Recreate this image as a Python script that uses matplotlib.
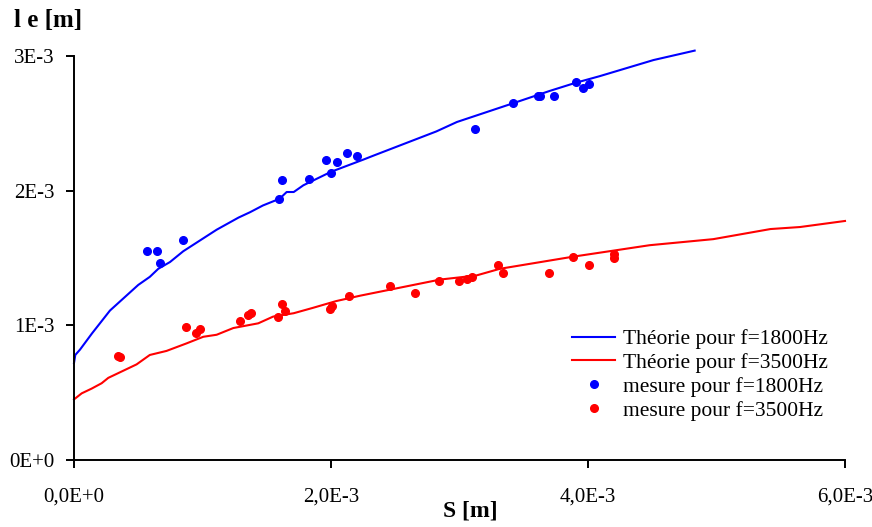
import numpy as np
import matplotlib
matplotlib.use("Agg")
import matplotlib.pyplot as plt

# valeurs, en mm (converties en m plus bas)
theo1800_S = [0.0, 0.01, 0.047, 0.14, 0.28, 0.50, 0.59, 0.656, 0.747, 0.85, 1.11, 1.28, 1.37, 1.47,
              1.60, 1.655, 1.71, 1.785, 2.0, 2.25, 2.33, 2.82, 2.98, 3.42, 3.7, 3.9, 4.09, 4.51, 4.83]
theo1800_le = [0.72, 0.78, 0.82, 0.94, 1.11, 1.30, 1.36, 1.42, 1.47, 1.55, 1.71, 1.80, 1.84, 1.89,
               1.94, 1.99, 1.99, 2.04, 2.14, 2.23, 2.26, 2.44, 2.51, 2.65, 2.74, 2.80, 2.85, 2.97, 3.04]

theo3500_S = [0.0, 0.06, 0.137, 0.215, 0.267, 0.487, 0.59, 0.72, 0.876, 1.006, 1.11, 1.24, 1.434,
              1.55, 1.71, 1.86, 2.04, 2.226, 2.85, 3.13, 3.315, 3.885, 4.48, 4.975, 5.42, 5.65, 6.0]
theo3500_le = [0.45, 0.495, 0.53, 0.57, 0.61, 0.71, 0.78, 0.81, 0.866, 0.915, 0.93, 0.98, 1.015,
               1.065, 1.09, 1.13, 1.18, 1.22, 1.34, 1.37, 1.42, 1.51, 1.595, 1.64, 1.715, 1.73, 1.775]

mes1800_S = [0.568, 0.646, 0.67, 0.85, 1.597, 1.62, 1.83, 1.96, 2.0, 2.05, 2.127, 2.2,
             3.12, 3.42, 3.61, 3.63, 3.735, 3.91, 3.96, 4.01]
mes1800_le = [1.55, 1.55, 1.46, 1.63, 1.94, 2.08, 2.09, 2.23, 2.13, 2.21, 2.28, 2.26,
              2.455, 2.65, 2.70, 2.70, 2.70, 2.81, 2.76, 2.79]

mes3500_S = [0.34, 0.36, 0.87, 0.95, 0.98, 1.29, 1.356, 1.38, 1.59, 1.617, 1.64, 1.99, 2.005, 2.14,
             2.46, 2.65, 2.84, 3.0, 3.06, 3.1, 3.3, 3.34, 3.70, 3.885, 4.01, 4.2, 4.2]
mes3500_le = [0.775, 0.765, 0.985, 0.945, 0.975, 1.03, 1.075, 1.09, 1.065, 1.16, 1.105, 1.125, 1.14, 1.22,
              1.29, 1.24, 1.33, 1.33, 1.345, 1.36, 1.445, 1.39, 1.39, 1.51, 1.445, 1.50, 1.53]

xticks = [0.0, 2e-3, 4e-3, 6e-3]
xtick_labels = ["0,0E+0", "2,0E-3", "4,0E-3", "6,0E-3"]
yticks = [0.0, 1e-3, 2e-3, 3e-3]
ytick_labels = ["0E+0", "1E-3", "2E-3", "3E-3"]

plt.rcParams['font.family'] = ['Liberation Serif', 'DejaVu Serif']

fig = plt.figure(figsize=(8.72, 5.27), dpi=100)
ax = fig.add_axes([74 / 872, 67 / 527, 771 / 872, 404 / 527])

mm = 1e-3
ax.plot(np.array(theo1800_S) * mm, np.array(theo1800_le) * mm, color="#0000FF", lw=1.5,
        label="Théorie pour f=1800Hz", clip_on=False)
ax.plot(np.array(theo3500_S) * mm, np.array(theo3500_le) * mm, color="#FF0000", lw=1.5,
        label="Théorie pour f=3500Hz", clip_on=False)
ax.plot(np.array(mes1800_S) * mm, np.array(mes1800_le) * mm, ls="none", marker="o", ms=5.5,
        color="#0000FF", label="mesure pour f=1800Hz", clip_on=False)
ax.plot(np.array(mes3500_S) * mm, np.array(mes3500_le) * mm, ls="none", marker="o", ms=5.5,
        color="#FF0000", label="mesure pour f=3500Hz", clip_on=False)

ax.set_xlim(0, 6e-3)
ax.set_ylim(0, 3e-3)
ax.set_xticks(xticks, labels=xtick_labels)
ax.set_yticks(yticks, labels=ytick_labels)
ax.tick_params(axis="x", direction="out", length=6, width=1.4, pad=14, labelsize=15)
ax.tick_params(axis="y", direction="out", length=6, width=1.4, pad=8, labelsize=15)

for s in ["top", "right"]:
    ax.spines[s].set_visible(False)
for s in ["left", "bottom"]:
    ax.spines[s].set_linewidth(1.4)

ax.set_xlabel("S [m]", fontsize=17, fontweight="bold")
ax.xaxis.set_label_coords(0.514, -0.10)
fig.text(14 / 872, 1 - 20 / 527, "l e [m]", fontsize=18, fontweight="bold", va="center", ha="left")

ax.legend(loc="upper left", bbox_to_anchor=(572 / 872, 1 - 329 / 527), bbox_transform=fig.transFigure,
          frameon=False, fontsize=15.5, handlelength=2.0, handletextpad=0.35, labelspacing=0.18,
          borderpad=0, borderaxespad=0)

fig.savefig("out.png", dpi=100)
